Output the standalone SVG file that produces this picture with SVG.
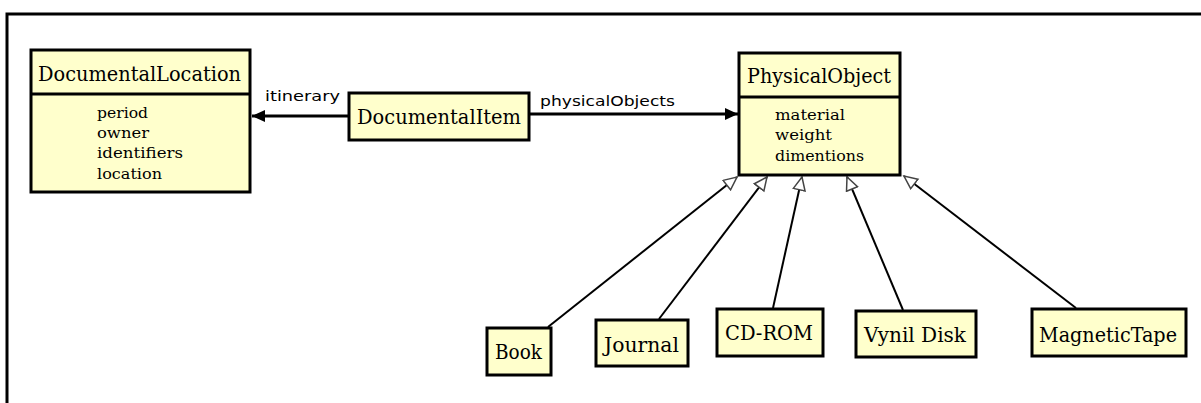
<svg xmlns="http://www.w3.org/2000/svg" width="1201" height="403" viewBox="0 0 1201 403">
<style>
.box{fill:#ffffcc;stroke:#000;stroke-width:3}
.div{stroke:#000;stroke-width:3}
.title{font-family:"DejaVu Serif","Liberation Serif",serif;font-size:20px;fill:#000}
.attr{font-family:"DejaVu Serif","Liberation Serif",serif;font-size:14.5px;fill:#000}
.lbl{font-family:"DejaVu Sans","Liberation Sans",sans-serif;font-size:14px;fill:#000}
.edge{stroke:#000;stroke-width:2;fill:none}
.assoc{stroke:#000;stroke-width:3;fill:none}
</style>
<defs>
<marker id="solid" markerUnits="userSpaceOnUse" markerWidth="14" markerHeight="12" refX="13" refY="6" orient="auto">
<path d="M0,0 L13,6 L0,12 z" fill="#000"/>
</marker>
<marker id="hollow" markerUnits="userSpaceOnUse" markerWidth="16" markerHeight="16" refX="14" refY="7" orient="auto">
<path d="M1,1 L14,7 L1,13 z" fill="#fff" stroke="#444" stroke-width="1.5"/>
</marker>
</defs>
<rect x="0" y="0" width="1201" height="403" fill="#fff"/>
<path d="M7,403 L7,14 L1201,14" fill="none" stroke="#000" stroke-width="3"/>

<g id="connectors">
<line class="assoc" x1="349" y1="116" x2="252" y2="116" marker-end="url(#solid)"/>
<text class="lbl" x="265" y="101" textLength="75" lengthAdjust="spacingAndGlyphs">itinerary</text>
<line class="assoc" x1="529" y1="114" x2="738" y2="114" marker-end="url(#solid)"/>
<text class="lbl" x="540" y="106" textLength="135" lengthAdjust="spacingAndGlyphs">physicalObjects</text>
<line class="edge" x1="548" y1="327" x2="737" y2="177" marker-end="url(#hollow)"/>
<line class="edge" x1="659" y1="319" x2="767" y2="177" marker-end="url(#hollow)"/>
<line class="edge" x1="773" y1="308" x2="802" y2="177" marker-end="url(#hollow)"/>
<line class="edge" x1="903" y1="310" x2="847" y2="177" marker-end="url(#hollow)"/>
<line class="edge" x1="1076" y1="308" x2="904" y2="176" marker-end="url(#hollow)"/>
</g>

<g id="DocumentalLocation">
<rect class="box" x="31" y="50" width="219" height="142"/>
<line class="div" x1="31" y1="94" x2="250" y2="94"/>
<text class="title" x="38" y="81" textLength="203" lengthAdjust="spacingAndGlyphs">DocumentalLocation</text>
<text class="attr" x="97" y="118" textLength="51" lengthAdjust="spacingAndGlyphs">period</text>
<text class="attr" x="97" y="138" textLength="52" lengthAdjust="spacingAndGlyphs">owner</text>
<text class="attr" x="97" y="158" textLength="86" lengthAdjust="spacingAndGlyphs">identifiers</text>
<text class="attr" x="97" y="179" textLength="65" lengthAdjust="spacingAndGlyphs">location</text>
</g>

<g id="DocumentalItem">
<rect class="box" x="349" y="93" width="180" height="47"/>
<text class="title" x="357" y="124" textLength="164" lengthAdjust="spacingAndGlyphs">DocumentalItem</text>
</g>

<g id="PhysicalObject">
<rect class="box" x="739" y="53" width="161" height="122"/>
<line class="div" x1="739" y1="97" x2="900" y2="97"/>
<text class="title" x="747" y="83" textLength="144" lengthAdjust="spacingAndGlyphs">PhysicalObject</text>
<text class="attr" x="775" y="120" textLength="70" lengthAdjust="spacingAndGlyphs">material</text>
<text class="attr" x="775" y="140" textLength="57" lengthAdjust="spacingAndGlyphs">weight</text>
<text class="attr" x="775" y="161" textLength="89" lengthAdjust="spacingAndGlyphs">dimentions</text>
</g>

<g id="Book">
<rect class="box" x="487" y="328" width="64" height="47"/>
<text class="title" x="495" y="359" textLength="47" lengthAdjust="spacingAndGlyphs">Book</text>
</g>

<g id="Journal">
<rect class="box" x="596" y="320" width="92" height="46"/>
<text class="title" x="604" y="352" textLength="75" lengthAdjust="spacingAndGlyphs">Journal</text>
</g>

<g id="CD-ROM">
<rect class="box" x="717" y="309" width="106" height="47"/>
<text class="title" x="725" y="340" textLength="88" lengthAdjust="spacingAndGlyphs">CD-ROM</text>
</g>

<g id="VynilDisk">
<rect class="box" x="856" y="311" width="120" height="46"/>
<text class="title" x="864" y="342" textLength="102" lengthAdjust="spacingAndGlyphs">Vynil Disk</text>
</g>

<g id="MagneticTape">
<rect class="box" x="1032" y="309" width="154" height="47"/>
<text class="title" x="1039" y="342" textLength="138" lengthAdjust="spacingAndGlyphs">MagneticTape</text>
</g>
</svg>
